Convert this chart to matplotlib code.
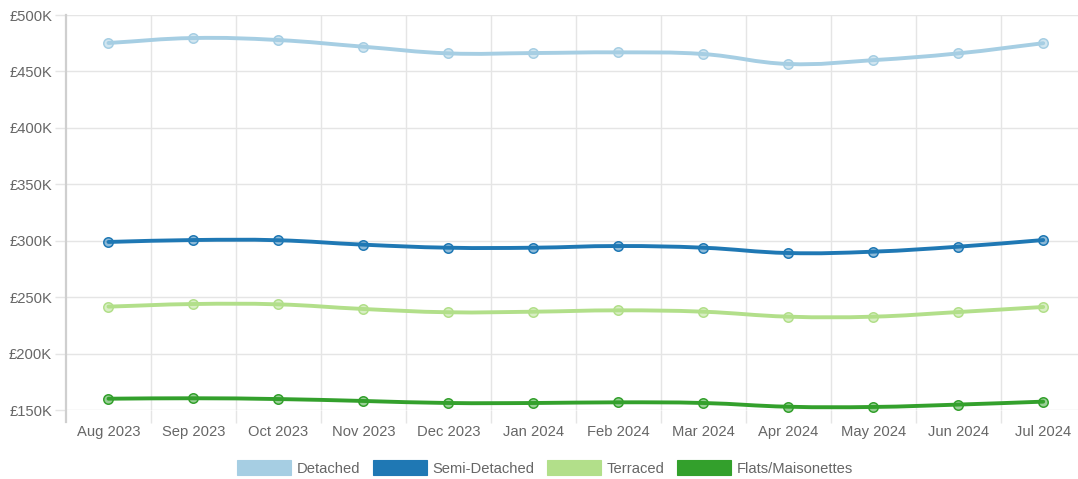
import matplotlib
matplotlib.use('Agg')
import matplotlib.pyplot as plt
import numpy as np
from matplotlib.path import Path
from matplotlib.patches import PathPatch, Patch
from matplotlib.ticker import FixedLocator, FuncFormatter
from matplotlib.colors import to_rgba

plt.rcParams['font.family'] = ['Liberation Sans', 'DejaVu Sans']

months = ['Aug 2023', 'Sep 2023', 'Oct 2023', 'Nov 2023', 'Dec 2023', 'Jan 2024',
          'Feb 2024', 'Mar 2024', 'Apr 2024', 'May 2024', 'Jun 2024', 'Jul 2024']
detached = [475200, 479600, 477800, 471900, 466000, 466300, 466900, 465400, 456600, 460000, 466000, 475000]
semi_detached = [298900, 300600, 300400, 296500, 293800, 293800, 295300, 293800, 289100, 290300, 294700, 300600]
terraced = [241600, 243900, 243600, 239500, 236600, 237100, 238300, 237100, 232700, 232700, 236800, 241300]
flats = [160000, 160400, 159700, 158000, 156200, 156200, 156800, 156200, 152900, 152700, 154800, 157400]

series_names = ['Detached', 'Semi-Detached', 'Terraced', 'Flats/Maisonettes']
series_values = [detached, semi_detached, terraced, flats]
colors = ['#a6cee3', '#1f78b4', '#b2df8a', '#33a02c']
y_ticks = [150000, 200000, 250000, 300000, 350000, 400000, 450000, 500000]

W, H = 1078, 479
fig = plt.figure(figsize=(W / 100, H / 100), dpi=100)
ax = fig.add_axes([66 / W, 1 - 410 / H, (1085.7 - 66) / W, (410 - 15) / H])

ax.set_xlim(-0.5, len(months) - 0.5)
ax.set_ylim(150000, 500000)

grid_c = '#e5e5e5'
text_c = '#666666'
fs = 10.6

# ticks / grid
ax.xaxis.set_major_locator(FixedLocator(range(len(months))))
ax.set_xticklabels(months)
ax.xaxis.set_minor_locator(FixedLocator([i + 0.5 for i in range(len(months) - 1)]))
ax.tick_params(axis='x', which='major', length=0, pad=11, labelsize=fs, labelcolor=text_c)
ax.tick_params(axis='x', which='minor', length=9, width=1, color=grid_c)
ax.grid(axis='x', which='minor', color=grid_c, linewidth=1)

ax.yaxis.set_major_locator(FixedLocator(y_ticks))
ax.yaxis.set_major_formatter(FuncFormatter(lambda v, p: '£{:.0f}K'.format(v / 1000)))
ax.tick_params(axis='y', which='major', length=8, width=1, color=grid_c, pad=2,
               labelsize=fs, labelcolor=text_c)
ax.grid(axis='y', which='major', color=grid_c, linewidth=1)
ax.set_axisbelow(True)

for s in ['top', 'right', 'bottom']:
    ax.spines[s].set_visible(False)
ax.spines['left'].set_color('#cfcfcf')
ax.spines['left'].set_linewidth(1.6)
ax.spines['left'].set_bounds(150000 - 12 * 350000 / 395, 500000)

# smoothing similar to chart.js tension 0.4
def spline_path(xs, ys, tension=0.4):
    pts = ax.transData.transform(np.column_stack([xs, ys]))
    n = len(pts)
    verts = [pts[0]]
    codes = [Path.MOVETO]
    cps = []
    for i in range(n):
        prev = pts[i - 1] if i > 0 else pts[i]
        cur = pts[i]
        nxt = pts[i + 1] if i < n - 1 else pts[i]
        d01 = np.hypot(*(cur - prev))
        d12 = np.hypot(*(nxt - cur))
        tot = d01 + d12
        s01 = d01 / tot if tot else 0
        s12 = d12 / tot if tot else 0
        fa = tension * s01
        fb = tension * s12
        cp_prev = cur - fa * (nxt - prev)
        cp_next = cur + fb * (nxt - prev)
        cps.append((cp_prev, cp_next))
    for i in range(1, n):
        verts += [cps[i - 1][1], cps[i][0], pts[i]]
        codes += [Path.CURVE4] * 3
    verts = ax.transData.inverted().transform(np.array(verts))
    return Path(verts, codes)

x = np.arange(len(months))
for name, vals, c in zip(series_names, series_values, colors):
    p = spline_path(x, vals)
    ax.add_patch(PathPatch(p, facecolor='none', edgecolor=c, linewidth=2.8,
                           capstyle='round', joinstyle='round', zorder=3))
    ax.plot(x, vals, linestyle='none', marker='o', markersize=6.8,
            markerfacecolor=to_rgba(c, 0.5), markeredgecolor=c,
            markeredgewidth=1.1, zorder=4, clip_on=False)

handles = [Patch(facecolor=c, edgecolor=c, linewidth=0.8) for c in colors]
leg = fig.legend(handles, series_names, loc='center', bbox_to_anchor=(545 / W, 1 - 468 / H),
                 ncol=4, frameon=False, fontsize=fs, handlelength=3.65, handleheight=1.15,
                 handletextpad=0.4, columnspacing=0.85, borderaxespad=0, borderpad=0)
for t in leg.get_texts():
    t.set_color(text_c)

fig.savefig('out.png', dpi=100)
